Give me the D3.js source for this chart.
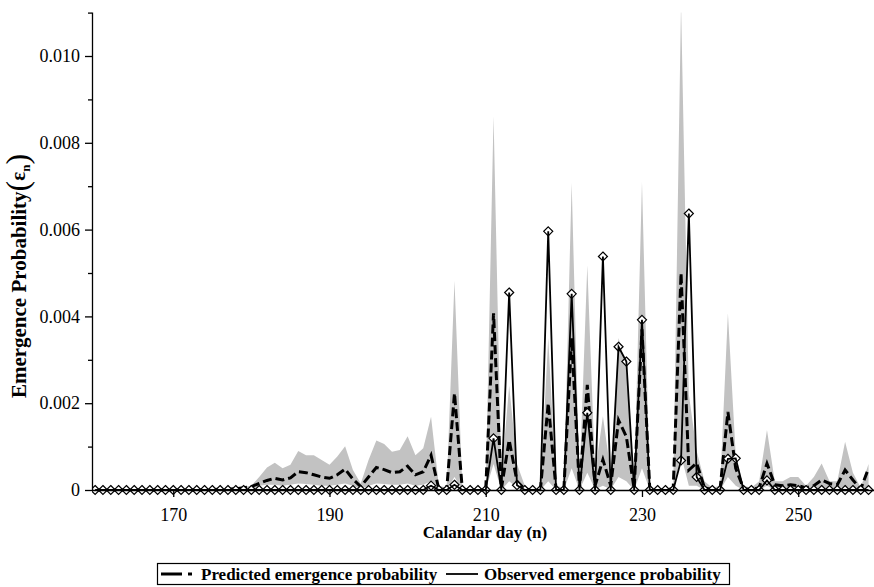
<!DOCTYPE html>
<html>
<head>
<meta charset="utf-8">
<script src="https://cdn.jsdelivr.net/npm/d3@7/dist/d3.min.js"></script>
<style>
  body { margin: 0; background: #fff; }
  svg { display: block; font-family: "Liberation Serif", "Times New Roman", serif; }
</style>
</head>
<body>
<svg id="chart" width="874" height="587"></svg>
<script>
const days = [160,161,162,163,164,165,166,167,168,169,170,171,172,173,174,175,176,177,178,179,
  180,181,182,183,184,185,186,187,188,189,190,191,192,193,194,195,196,197,198,199,
  200,201,202,203,204,205,206,207,208,209,210,211,212,213,214,215,216,217,218,219,
  220,221,222,223,224,225,226,227,228,229,230,231,232,233,234,235,236,237,238,239,
  240,241,242,243,244,245,246,247,248,249,250,251,252,253,254,255,256,257,258,259];

// Predicted emergence probability (dashed)
const predicted = [0,0,0,0,0,0,0,0,0,0, 0,0,0,0,0,0.00001,0.00002,0.00002,0.00003,0.00005,
  0.00008,0.00015,0.00022,0.00027,0.00023,0.00028,0.00042,0.0004,0.00035,0.0003,
  0.00027,0.00035,0.00048,0.00025,0.00008,0.0003,0.00052,0.00047,0.0004,0.00042,
  0.00055,0.00035,0.00042,0.0008,0.00002,0.00001,0.00223,0.00002,0,0,
  0.00001,0.00407,0.00003,0.00115,0.0002,0.00002,0,0.00001,0.002,0.00002,
  0.00001,0.0035,0.00002,0.00242,0.0001,0.0007,0.0001,0.00161,0.00123,0.00002,
  0.0037,0.00002,0,0,0.00003,0.005,0.00046,0.00062,0.00005,0.00001,
  0.00003,0.0018,0.0005,0.00003,0.00001,0.00005,0.00061,0.00012,0.0001,0.00012,
  0.0001,0.00005,0.0001,0.00023,0.00015,0.00012,0.00046,0.00023,0.00002,0.0005];

// Upper and lower bounds of the shaded band
const upper = [0,0,0,0,0,0,0,0,0,0, 0,0,0,0,0,0.00001,0.00002,0.00003,0.00004,0.00007,
  0.0001,0.0003,0.00052,0.00063,0.0005,0.00058,0.0009,0.0008,0.0008,0.00069,
  0.00058,0.00077,0.00101,0.00046,0.00015,0.00069,0.00114,0.00106,0.00088,0.00092,
  0.00124,0.0008,0.00096,0.00169,0.0001,0.00005,0.00482,0.0001,0,0,
  0.00005,0.00862,0.0003,0.0024,0.0006,0.0001,0,0.00005,0.0035,0.0001,
  0.00005,0.00708,0.0002,0.00518,0.0004,0.0017,0.0004,0.0035,0.0028,0.0001,
  0.0071,0.0001,0,0,0.0001,0.0112,0.0022,0.0009,0.0002,0.00005,
  0.0001,0.00407,0.0008,0.0001,0.00005,0.0002,0.00138,0.0002,0.0002,0.0003,
  0.0003,0.0001,0.0003,0.00061,0.0002,0.0002,0.00111,0.0004,0.00005,0.0006];

const lower = [0,0,0,0,0,0,0,0,0,0, 0,0,0,0,0,0,0,0,0,0,
  0,0.0001,0.00012,0.00012,0.0001,0.00012,0.00015,0.00014,0.00012,0.0001,
  0.0001,0.00012,0.00015,0.0001,0.00003,0.0001,0.00015,0.00014,0.00012,0.00012,
  0.00015,0.0001,0.00012,0.0002,0,0,0.0003,0,0,0,
  0,0.0006,0,0.0002,0.00005,0,0,0,0.0002,0,
  0,0.0005,0,0.0004,0.00002,0.0001,0.00002,0.0003,0.0002,0,
  0.0005,0,0,0,0,0.0008,0.0001,0.0001,0,0,
  0,0.0003,0.0001,0,0,0,0.0001,0,0,0,
  0,0,0,0,0,0,0.0001,0,0,0];

// Observed emergence probability (solid with diamonds)
const observed = [0,0,0,0,0,0,0,0,0,0, 0,0,0,0,0,0,0,0,0,0,
  0,0,0,0,0,0,0,0,0,0, 0,0,0,0,0,0,0,0,0,0,
  0,0,0,0.0001,0,0,0.00012,0,0,0,
  0,0.00119,0,0.00455,0.00011,0,0,0,0.00596,0,
  0,0.00452,0,0.00178,0,0.00538,0,0.0033,0.00296,0,
  0.00392,0,0,0,0,0.00068,0.00637,0.0003,0,0,
  0,0.00072,0.00073,0,0,0,0.00022,0,0,0,
  0,0,0,0,0,0,0,0,0,0];

const xTicks = [170, 190, 210, 230, 250];
const yMajorTicks = [0, 0.002, 0.004, 0.006, 0.008, 0.010];
const yMinorTicks = [0.001, 0.003, 0.005, 0.007, 0.009, 0.011];

const svg = d3.select("#chart");
const pLeft = 92, pRight = 874, pTop = 12.6, pBottom = 490;

const x = d3.scaleLinear().domain([159.6, 259.7]).range([pLeft, pRight]);
const y = d3.scaleLinear().domain([0, 0.011]).range([pBottom, pTop]);

const rows = days.map((d, i) => ({ d, p: predicted[i], hi: upper[i], lo: lower[i], o: observed[i] }));

svg.append("defs").append("clipPath").attr("id", "plotclip")
  .append("rect").attr("x", pLeft).attr("y", pTop).attr("width", pRight - pLeft).attr("height", pBottom - pTop + 8);

const g = svg.append("g").attr("clip-path", "url(#plotclip)");

g.append("path")
  .datum(rows)
  .attr("fill", "#c2c2c2")
  .attr("d", d3.area().x(r => x(r.d)).y0(r => y(r.lo)).y1(r => y(r.hi)));

g.append("path")
  .datum(rows)
  .attr("fill", "none")
  .attr("stroke", "#000")
  .attr("stroke-width", 3)
  .attr("stroke-dasharray", "9,4")
  .attr("d", d3.line().x(r => x(r.d)).y(r => y(r.p)));

const diamond = d3.symbol().type(d3.symbolDiamond2).size(52);
g.selectAll("path.obs")
  .data(rows)
  .join("path")
  .attr("class", "obs")
  .attr("transform", r => `translate(${x(r.d)},${y(r.o)})`)
  .attr("d", diamond)
  .attr("fill", "#fff")
  .attr("stroke", "#000")
  .attr("stroke-width", 1.2);

g.append("path")
  .datum(rows)
  .attr("fill", "none")
  .attr("stroke", "#000")
  .attr("stroke-width", 1.8)
  .attr("d", d3.line().x(r => x(r.d)).y(r => y(r.o)));

const xAxis = d3.axisBottom(x).tickValues(xTicks).tickSize(7).tickPadding(11).tickFormat(d3.format("d"));
const gx = svg.append("g").attr("transform", `translate(0,${pBottom})`).call(xAxis);
gx.select(".domain").attr("d", `M${pLeft},0.5H${pRight}`).attr("stroke", "#000").attr("stroke-width", 1.3);
gx.selectAll(".tick line").attr("stroke", "#000").attr("stroke-width", 1.3);
gx.selectAll(".tick text").attr("font-size", 18).attr("font-family", "Liberation Serif").attr("fill", "#000");

const yAxis = d3.axisLeft(y).tickValues(yMajorTicks).tickSize(7).tickPadding(5)
  .tickFormat(d => d === 0 ? "0" : d3.format(".3f")(d));
const gy = svg.append("g").attr("transform", `translate(${pLeft},0)`).call(yAxis);
gy.select(".domain").attr("d", `M0.5,${pTop}V${pBottom}`).attr("stroke", "#000").attr("stroke-width", 1.3);
gy.selectAll(".tick line").attr("stroke", "#000").attr("stroke-width", 1.3);
gy.selectAll(".tick text").attr("font-size", 18).attr("font-family", "Liberation Serif").attr("fill", "#000");

const yMinor = d3.axisLeft(y).tickValues(yMinorTicks).tickSize(4).tickFormat("");
const gym = svg.append("g").attr("transform", `translate(${pLeft},0)`).call(yMinor);
gym.select(".domain").remove();
gym.selectAll(".tick line").attr("stroke", "#000").attr("stroke-width", 1.3);

svg.append("text")
  .attr("x", (pLeft + pRight) / 2 + 2)
  .attr("y", 538)
  .attr("text-anchor", "middle")
  .attr("font-size", 17)
  .attr("font-weight", "bold")
  .text("Calandar day (n)");

const yt = svg.append("text")
  .attr("transform", "translate(26,276) rotate(-90)")
  .attr("text-anchor", "middle")
  .attr("font-size", 21)
  .attr("font-weight", "bold");
yt.append("tspan").text("Emergence Probability");
yt.append("tspan").attr("font-weight", "normal").attr("font-size", 32).attr("dy", 2).text("(");
yt.append("tspan").attr("dy", -3).text("ε");
yt.append("tspan").attr("font-size", 13).attr("dy", 5).text("n");
yt.append("tspan").attr("font-weight", "normal").attr("font-size", 32).attr("dy", -2).text(")");

const lg = svg.append("g");
lg.append("rect").attr("x", 157.5).attr("y", 563.5).attr("width", 572).attr("height", 21)
  .attr("fill", "#fff").attr("stroke", "#000").attr("stroke-width", 1.2);
lg.append("line").attr("x1", 161).attr("x2", 182).attr("y1", 574).attr("y2", 574)
  .attr("stroke", "#000").attr("stroke-width", 3);
lg.append("line").attr("x1", 188).attr("x2", 192).attr("y1", 574).attr("y2", 574)
  .attr("stroke", "#000").attr("stroke-width", 3);
lg.append("text").attr("x", 201).attr("y", 580).attr("font-size", 17).attr("font-weight", "bold")
  .text("Predicted emergence probability");
lg.append("line").attr("x1", 446).attr("x2", 478).attr("y1", 574).attr("y2", 574)
  .attr("stroke", "#000").attr("stroke-width", 1.8);
lg.append("text").attr("x", 484).attr("y", 580).attr("font-size", 17).attr("font-weight", "bold")
  .text("Observed emergence probability");
</script>
</body>
</html>
